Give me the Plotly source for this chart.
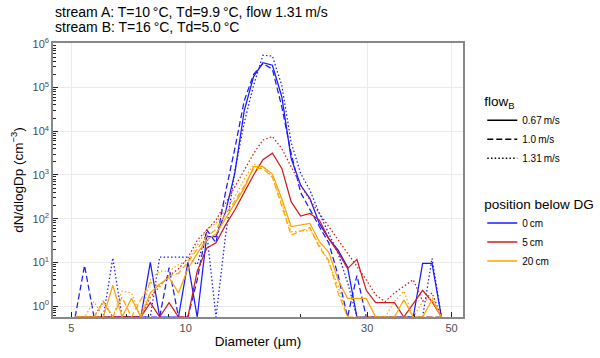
import plotly.graph_objects as go

# Bin centre diameters (µm)
diameter = [5.12, 5.42, 5.74, 6.07, 6.43, 6.80, 7.20, 7.62, 8.07, 8.54,
            9.04, 9.57, 10.13, 10.72, 11.35, 12.01, 12.72, 13.46, 14.25, 15.08,
            15.96, 16.90, 17.89, 18.93, 20.04, 21.21, 22.45, 23.77, 25.16, 26.63,
            28.19, 29.83, 31.58, 33.43, 35.38, 37.45, 39.64, 41.96, 44.42, 47.02]

# dN/dlogDp (cm^-3); 0 = no counts
pos0_flow067 = [0, 0, 0, 0, 0, 0, 0, 0, 10, 0,
                0, 0, 10, 0, 39, 39, 141, 1100, 29500, 178000,
                372000, 324000, 61700, 2400, 589, 288, 78, 35, 19, 7.9,
                0, 0, 0, 0, 0, 0, 0, 9.5, 9.5, 0]
pos0_flow100 = [0, 8.5, 0, 0, 0, 0, 0, 0, 0, 0,
                7.6, 0, 0, 4.0, 56, 28, 400, 4000, 50000, 200000,
                355000, 263000, 36300, 3160, 400, 158, 66, 28, 5, 0,
                5, 0, 0, 0, 0, 0, 0, 0, 0, 0]
pos0_flow131 = [0, 0, 0, 0, 12.6, 0, 0, 0, 0, 13.2,
                13.2, 13.2, 13.2, 8.9, 50, 0, 40, 1260, 15800, 112000,
                550000, 525000, 112000, 5600, 1100, 447, 132, 46, 16, 3.5,
                0, 0, 0, 0, 0, 0, 0, 0, 12.3, 0]
pos5_flow067 = [0, 0, 0, 0, 0, 0, 0, 0, 1.2, 0,
                1.2, 0, 0, 6.3, 21, 28, 71, 158, 400, 1000,
                2240, 3160, 1410, 245, 115, 132, 93, 35, 17, 7.2,
                11.7, 2.3, 1.2, 1.2, 1.2, 0, 1.15, 2.3, 1.26, 0]
pos5_flow131 = [0, 0, 0, 1.26, 0, 0, 0, 0, 1.6, 2.8,
                5, 7.1, 12.6, 32, 56, 93, 224, 537, 1290, 3090,
                6300, 7600, 4000, 1550, 589, 269, 132, 66, 32, 16,
                7.9, 4, 1.8, 1.26, 2, 2.8, 4, 1.3, 2, 0]
pos20_flow067 = [0, 0, 0, 0, 3, 0, 1.5, 0, 2, 3.2,
                 4.5, 2, 7.1, 16, 32, 45, 100, 224, 500, 1550,
                 1550, 1050, 282, 66, 71, 78, 30, 17, 4, 1.5,
                 1.5, 1.5, 0, 0, 0, 1.4, 0, 0, 1.4, 0]
pos20_flow100 = [0, 0, 0, 1.3, 0, 1.6, 0, 1.4, 3.5, 2.8,
                 5, 5.6, 10, 20, 40, 56, 126, 251, 562, 1410,
                 1410, 890, 200, 42, 52, 63, 22, 11, 2, 0,
                 0, 0, 0, 0, 0, 0, 0, 0, 0, 0]
pos20_flow131 = [0, 0, 1.26, 0, 0, 2.2, 2, 0, 4, 6.3,
                 6.3, 8.9, 11, 25, 56, 79, 158, 316, 794, 1780,
                 1580, 890, 224, 50, 52, 56, 25, 10, 2.8, 0,
                 0, 0, 0, 0, 1.26, 2.2, 0, 1.26, 1.6, 0]

flow_labels = ["0.67\u2009m/s", "1.0\u2009m/s", "1.31\u2009m/s"]
position_labels = ["0\u2009cm", "5\u2009cm", "20\u2009cm"]
x_tick_vals = [5, 10, 30, 50]
y_tick_vals = [1, 10, 100, 1000, 10000, 100000, 1000000]
y_tick_text = ["10<sup>%d</sup>" % i for i in range(7)]

colors = {"0": "#1a1aff", "5": "#d01c1c", "20": "#ffa500"}
dashes = {"0.67": "solid", "1.0": "6px,3px", "1.31": "1.5px,2.2px"}

Y_LOG_RANGE = [-0.25, 6.02]
FLOOR = 10 ** Y_LOG_RANGE[0]

series = [
    (pos0_flow067, "0", "0.67"), (pos0_flow100, "0", "1.0"), (pos0_flow131, "0", "1.31"),
    (pos5_flow067, "5", "0.67"), (pos5_flow131, "5", "1.31"),
    (pos20_flow067, "20", "0.67"), (pos20_flow100, "20", "1.0"), (pos20_flow131, "20", "1.31"),
]

fig = go.Figure()
for vals, pos, flow in series:
    yv = [v if v > 0 else FLOOR for v in vals]
    fig.add_trace(go.Scatter(
        x=diameter, y=yv, mode="lines", showlegend=False,
        line=dict(color=colors[pos], width=1.25, dash=dashes[flow]),
        cliponaxis=True,
    ))

# legend entries: flow (line style)
for lab, key in zip(flow_labels, ["0.67", "1.0", "1.31"]):
    fig.add_trace(go.Scatter(x=[None], y=[None], mode="lines", name=lab,
                             line=dict(color="black", width=1.4, dash=dashes[key]),
                             legend="legend"))
# legend entries: position (colour)
for lab, key in zip(position_labels, ["0", "5", "20"]):
    fig.add_trace(go.Scatter(x=[None], y=[None], mode="lines", name=lab,
                             line=dict(color=colors[key], width=1.4),
                             legend="legend2"))

FONT = "Liberation Sans, Arial, sans-serif"
axis_common = dict(showline=True, mirror=True, linecolor="#888888", linewidth=1.5,
                   showgrid=True, gridcolor="#ebebeb", gridwidth=1, zeroline=False,
                   ticks="inside", ticklen=5, tickcolor="#222222", tickwidth=1,
                   tickfont=dict(size=11, color="#4d4d4d", family=FONT))

fig.update_layout(
    width=600, height=358,
    margin=dict(l=53, r=137, t=43, b=41, autoexpand=False),
    paper_bgcolor="white", plot_bgcolor="white",
    font=dict(family=FONT, color="black"),
    xaxis=dict(type="log", range=[0.651, 1.729], tickmode="array",
               tickvals=x_tick_vals, ticktext=[str(v) for v in x_tick_vals],
               title=dict(text="Diameter (µm)", font=dict(size=13.5), standoff=4),
               minor=dict(tickvals=[6, 7, 8, 9, 20, 40], ticks="inside", ticklen=3,
                          tickcolor="#222222", showgrid=False),
               **axis_common),
    yaxis=dict(type="log", range=Y_LOG_RANGE, tickmode="array",
               tickvals=y_tick_vals, ticktext=y_tick_text,
               title=dict(text="dN/dlogDp (cm<sup>\u22123</sup>)", font=dict(size=13.5), standoff=6),
               minor=dict(tickvals=[m * 10 ** e for e in range(-1, 6) for m in range(2, 10)],
                          ticks="inside", ticklen=3, tickcolor="#222222", showgrid=False),
               **axis_common),
    legend=dict(x=1.047, xanchor="left", y=0.835, yanchor="top",
                title=dict(text="flow<sub>B</sub>", font=dict(size=13.5)),
                font=dict(size=10), bgcolor="rgba(0,0,0,0)", tracegroupgap=0),
    legend2=dict(x=1.047, xanchor="left", y=0.46, yanchor="top",
                 title=dict(text="position below DG", font=dict(size=13.5)),
                 font=dict(size=10), bgcolor="rgba(0,0,0,0)", tracegroupgap=0),
    annotations=[
        dict(text="stream A: T=10\u2009°C, Td=9.9\u2009°C, flow 1.31\u2009m/s",
             xref="paper", yref="paper", x=0, y=(317 - 12) / 274, xanchor="left",
             yanchor="middle", showarrow=False, font=dict(size=14)),
        dict(text="stream B: T=16\u2009°C, Td=5.0\u2009°C",
             xref="paper", yref="paper", x=0, y=(317 - 27) / 274, xanchor="left",
             yanchor="middle", showarrow=False, font=dict(size=14)),
    ],
)

fig.write_html("out.html", config={"displayModeBar": False},
               post_script="document.body.style.margin='0px';")
